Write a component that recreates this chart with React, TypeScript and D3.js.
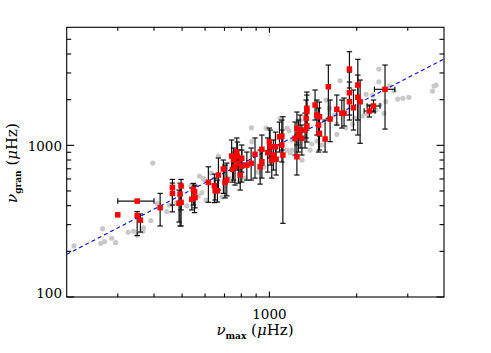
import React, { useEffect, useRef } from 'react';
import * as d3 from 'd3';

// stars with granulation fits: nu_max, nu_gran and the nu_gran error range (muHz)
const redNuMax = [300, 350, 350, 359, 420, 463, 463, 496, 492, 496, 488, 547, 552, 540, 554, 616, 646, 650, 662, 667, 694, 703, 713, 741, 772, 776, 752, 782, 761, 803, 836, 746, 793, 892, 942, 929, 865, 1000, 1006, 987, 1033, 1019, 1083, 1104, 1104, 1113, 1055, 1244, 1276, 1259, 1226, 1294, 1244, 1346, 1346, 1339, 1346, 1327, 1437, 1458, 1488, 1477, 1488, 1556, 1597, 1619, 1708, 1777, 1809, 1888, 1888, 1888, 2018, 2018, 2055, 1949, 2213, 2285, 2504, 942, 1049, 803];
const redNuGran = [348, 429, 344, 321, 388, 528, 482, 539, 477, 421, 415, 513, 494, 441, 452, 570, 541, 502, 502, 637, 698, 570, 590, 850, 907, 841, 800, 761, 722, 730, 741, 694, 637, 873, 780, 722, 761, 1057, 979, 894, 863, 800, 1139, 1152, 1005, 863, 809, 1294, 1261, 1169, 1112, 1112, 841, 1754, 1666, 1506, 1347, 1261, 1844, 1584, 1543, 1361, 1200, 1101, 2433, 1490, 1728, 1626, 1626, 3184, 2222, 1939, 2497, 2072, 1939, 1770, 1683, 1817, 2340, 941, 979, 821];
const redGranLo = [null, null, 254, 268, 294, 404, 364, 375, 294, 294, 312, 404, 360, 375, 387, 421, 419, 436, 423, 507, 482, 450, 464, 687, 708, 687, 590, 563, 547, 572, 590, 572, 507, 608, 608, 555, 590, 825, 741, 666, 687, 608, 903, 931, 776, 306, 637, 1005, 960, 903, 863, 863, 637, 1300, 1261, 1118, 1051, 960, 1468, 1169, 1152, 903, 931, 903, 1506, 1057, 1361, 1300, 1340, 2387, 1584, 1468, 1169, 1468, 1031, 1261, 1537, 1658, 1280, 741, 800, 666];
const redGranHi = [null, null, 366, 353, 482, 596, 564, 596, 563, 539, 507, 561, 547, 523, 539, 722, 646, 608, 590, 825, 800, 741, 764, 1084, 1118, 1051, 960, 931, 903, 931, 903, 863, 800, 1118, 931, 931, 960, 1300, 1261, 1118, 1084, 1005, 1424, 1468, 1261, 1543, 1005, 1658, 1584, 1468, 1424, 1361, 1169, 2245, 2146, 1989, 1762, 1632, 2315, 1989, 1929, 1762, 1513, 1468, 3384, 1989, 2146, 1989, 2050, 4141, 3042, 2613, 3690, 2906, 2694, 2315, 1844, 1989, 3384, 1169, 1223, 1005];
// nu_max error bars, only for the stars that show one
const xErrIdx = [1, 76, 77, 78];
const xErrLo = [300, 2121, 2172, 2302];
const xErrHi = [400, 2314, 2408, 2707];

// comparison sample (grey)
const greyNuMax = [212, 266, 262, 270, 286, 295, 326, 340, 350, 366, 368, 390, 396, 411, 443, 452, 477, 519, 536, 574, 592, 585, 595, 667, 867, 870, 1089, 1149, 1169, 1195, 1179, 1400, 1458, 1611, 1676, 1708, 1708, 1753, 1834, 1933, 1974, 2100, 2156, 2184, 2273, 2327, 2385, 2385, 2408, 2485, 2519, 2594, 2691, 2770, 2884, 3026, 3650, 3697, 3757, 568, 605, 630, 687, 824, 915, 959, 974, 1151, 1198, 1276, 1382, 1520, 1569, 1296, 726];
const greyNuGran = [217, 282, 226, 232, 244, 228, 267, 272, 256, 272, 286, 319, 764, 415, 366, 404, 419, 399, 544, 627, 605, 487, 596, 850, 1306, 1057, 1506, 931, 1248, 931, 894, 1020, 1068, 1754, 1584, 1381, 1182, 2665, 1306, 1381, 1506, 1561, 2170, 1608, 2146, 1709, 3184, 2626, 1844, 1626, 1939, 2461, 2290, 2019, 2041, 2073, 2280, 2461, 2497, 464, 436, 656, 457, 608, 666, 719, 1300, 1300, 1084, 1468, 931, 1005, 1989, 800, 608];

// power-law fit nu_gran = A * nu_max^B
const fitA = 1.007;
const fitB = 0.99;

const xDomain = [200, 4000];
const yDomain = [100, 6000];
const xMajor = [1000];
const xMinor = [300, 400, 500, 600, 700, 800, 900, 2000, 3000];
const yMajor = [100, 1000];
const yMinor = [200, 300, 400, 500, 600, 700, 800, 900, 2000, 3000, 4000, 5000];

const W = 491;
const H = 353;

const App = () => {
  const ref = useRef(null);

  useEffect(() => {
    const svg = d3.select(ref.current);
    svg.selectAll('*').remove();

    const left = 66.7, right = 444, top = 27.3, bottom = 297;
    const x = d3.scaleLog().domain(xDomain).range([left, right]);
    const y = d3.scaleLog().domain(yDomain).range([bottom, top]);

    svg.append('rect').attr('width', W).attr('height', H).attr('fill', '#fff');

    const plot = svg.append('g');

    // grey comparison points
    plot.selectAll('circle.grey')
      .data(greyNuMax)
      .enter()
      .append('circle')
      .attr('cx', d => x(d))
      .attr('cy', (d, i) => y(greyNuGran[i]))
      .attr('r', 2.6)
      .attr('fill', '#c8c8c8');

    // fit line
    const fitLine = d3.line().x(d => x(d)).y(d => y(fitA * Math.pow(d, fitB)));
    plot.append('path')
      .attr('d', fitLine(xDomain))
      .attr('fill', 'none')
      .attr('stroke', '#0000ee')
      .attr('stroke-width', 1.1)
      .attr('stroke-dasharray', '4,3');

    // error bars
    const cap = 2.7;
    const bars = plot.append('g').attr('stroke', '#111').attr('stroke-width', 1.2);
    redNuMax.forEach((mx, i) => {
      const lo = redGranLo[i], hi = redGranHi[i];
      if (lo == null || hi == null) return;
      const cx = x(mx);
      bars.append('line').attr('x1', cx).attr('x2', cx).attr('y1', y(lo)).attr('y2', y(hi));
      bars.append('line').attr('x1', cx - cap).attr('x2', cx + cap).attr('y1', y(lo)).attr('y2', y(lo));
      bars.append('line').attr('x1', cx - cap).attr('x2', cx + cap).attr('y1', y(hi)).attr('y2', y(hi));
    });
    xErrIdx.forEach((idx, k) => {
      const cy = y(redNuGran[idx]);
      const x0 = x(xErrLo[k]), x1 = x(xErrHi[k]);
      bars.append('line').attr('x1', x0).attr('x2', x1).attr('y1', cy).attr('y2', cy);
      bars.append('line').attr('x1', x0).attr('x2', x0).attr('y1', cy - cap).attr('y2', cy + cap);
      bars.append('line').attr('x1', x1).attr('x2', x1).attr('y1', cy - cap).attr('y2', cy + cap);
    });

    // red squares
    const s = 5.5;
    plot.selectAll('rect.red')
      .data(redNuMax)
      .enter()
      .append('rect')
      .attr('x', d => x(d) - s / 2)
      .attr('y', (d, i) => y(redNuGran[i]) - s / 2)
      .attr('width', s)
      .attr('height', s)
      .attr('fill', '#ff0000');

    // frame and ticks on all sides
    const axes = svg.append('g').attr('stroke', '#000').attr('stroke-width', 1.1);
    axes.append('rect')
      .attr('x', left).attr('y', top)
      .attr('width', right - left).attr('height', bottom - top)
      .attr('fill', 'none');

    const xTick = (v, len) => {
      axes.append('line').attr('x1', x(v)).attr('x2', x(v)).attr('y1', bottom).attr('y2', bottom - len);
      axes.append('line').attr('x1', x(v)).attr('x2', x(v)).attr('y1', top).attr('y2', top + len);
    };
    const yTick = (v, len) => {
      axes.append('line').attr('y1', y(v)).attr('y2', y(v)).attr('x1', left).attr('x2', left + len);
      axes.append('line').attr('y1', y(v)).attr('y2', y(v)).attr('x1', right).attr('x2', right - len);
    };
    xMajor.forEach(v => xTick(v, 5.5));
    xMinor.forEach(v => xTick(v, 3.5));
    yMajor.forEach(v => yTick(v, 7.5));
    yMinor.forEach(v => yTick(v, 4.5));

    const font = '"DejaVu Serif", serif';
    xMajor.forEach(v => {
      svg.append('text')
        .attr('x', x(v)).attr('y', 319)
        .attr('text-anchor', 'middle')
        .attr('font-family', font).attr('font-size', 13.5)
        .text(d3.format('d')(v));
    });
    yMajor.forEach(v => {
      svg.append('text')
        .attr('x', 62).attr('y', v === 100 ? 297.7 : y(v) + 5.3)
        .attr('text-anchor', 'end')
        .attr('font-family', font).attr('font-size', 13.5)
        .text(d3.format('d')(v));
    });

    // axis titles
    const title = (g, sub) => {
      g.attr('font-family', font).attr('text-anchor', 'middle');
      g.append('tspan').attr('font-size', 15).attr('font-style', 'italic').text('ν');
      g.append('tspan').attr('font-size', 9).attr('font-weight', 'bold').attr('dy', 4).text(sub);
      g.append('tspan').attr('font-size', 15).attr('dy', -4).text(' (');
      g.append('tspan').attr('font-size', 15).attr('font-style', 'italic').text('μ');
      g.append('tspan').attr('font-size', 15).text('Hz)');
    };
    title(svg.append('text').attr('x', 255).attr('y', 335), 'max');
    title(svg.append('text').attr('transform', 'translate(17,163) rotate(-90)'), 'gran');
  }, []);

  return (
    <svg
      ref={ref}
      width={W}
      height={H}
      style={{ position: 'absolute', left: 0, top: 0 }}
    />
  );
};

export default App;
